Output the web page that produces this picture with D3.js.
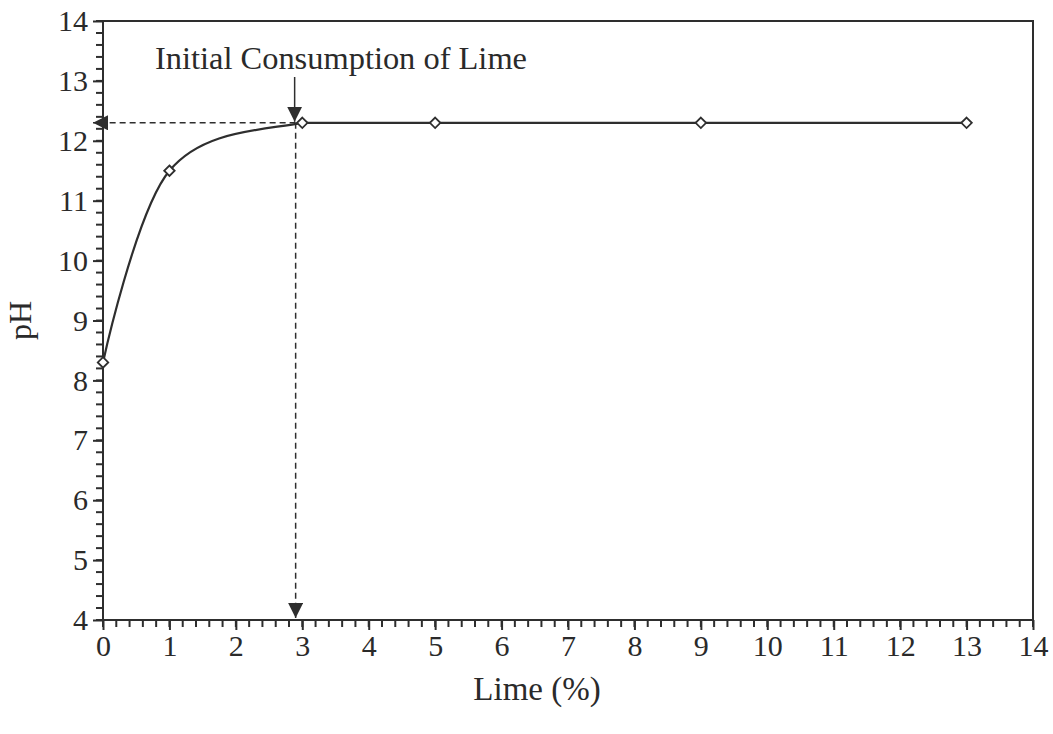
<!DOCTYPE html>
<html>
<head>
<meta charset="utf-8">
<script src="https://cdn.jsdelivr.net/npm/d3@7"></script>
<style>
  body { margin: 0; background: #fff; }
  svg { display: block; }
  text { font-family: "Liberation Serif", "Times New Roman", serif; fill: #2a2a2a; }
</style>
</head>
<body>
<svg id="chart" width="1053" height="734"></svg>
<script>
// Lime content (%) and measured pH
const limePct = [0, 1, 3, 5, 9, 13];
const phValues = [8.3, 11.5, 12.3, 12.3, 12.3, 12.3];
const xTicks = [0, 1, 2, 3, 4, 5, 6, 7, 8, 9, 10, 11, 12, 13, 14];
const yTicks = [4, 5, 6, 7, 8, 9, 10, 11, 12, 13, 14];
// Initial consumption of lime
const iclLime = [2.9];
const iclPh = [12.3];

const svg = d3.select("#chart");
const ink = "#2e2e2e";
const W = 1053;
const margin = { left: 103, right: 20, top: 21, bottom: 114 };
const H = 734;

const x = d3.scaleLinear().domain([0, 14]).range([margin.left, W - margin.right]);
const y = d3.scaleLinear().domain([4, 14]).range([H - margin.bottom, margin.top]);

const defs = svg.append("defs");
defs.append("marker").attr("id", "arrow")
  .attr("viewBox", "0 0 10 10").attr("refX", 10).attr("refY", 5)
  .attr("markerWidth", 15).attr("markerHeight", 15).attr("markerUnits", "userSpaceOnUse")
  .attr("orient", "auto")
  .append("path").attr("d", "M0,0 L10,5 L0,10 Z").attr("fill", ink);

// Rising part of the curve is smoothed up to the first plateau point
defs.append("clipPath").attr("id", "rise")
  .append("rect")
  .attr("x", x(0) - 10).attr("y", 0)
  .attr("width", x(limePct[2]) - x(0) + 10).attr("height", H);

// Frame
svg.append("rect")
  .attr("x", x(0)).attr("y", y(14))
  .attr("width", x(14) - x(0)).attr("height", y(4) - y(14))
  .attr("fill", "none").attr("stroke", ink).attr("stroke-width", 2);

// Minor ticks
const minorX = d3.range(0, 14.001, 0.2);
const minorY = d3.range(4, 14.001, 0.2);
svg.append("g").attr("transform", `translate(0,${y(4)})`)
  .selectAll("line").data(minorX).join("line")
  .attr("x1", d => x(d)).attr("x2", d => x(d)).attr("y1", 0).attr("y2", 7)
  .attr("stroke", ink).attr("stroke-width", 2);
svg.append("g").attr("transform", `translate(${x(0)},0)`)
  .selectAll("line").data(minorY).join("line")
  .attr("y1", d => y(d)).attr("y2", d => y(d)).attr("x1", 0).attr("x2", -7)
  .attr("stroke", ink).attr("stroke-width", 2);

// Major axes
const xAxis = d3.axisBottom(x).tickValues(xTicks).tickFormat(d3.format("d")).tickSize(10).tickPadding(5);
const yAxis = d3.axisLeft(y).tickValues(yTicks).tickFormat(d3.format("d")).tickSize(10).tickPadding(5);
const ax = svg.append("g").attr("transform", `translate(0,${y(4)})`).call(xAxis);
const ay = svg.append("g").attr("transform", `translate(${x(0)},0)`).call(yAxis);
[ax, ay].forEach(g => {
  g.attr("font-size", 30).attr("font-family", null);
  g.select(".domain").remove();
  g.selectAll(".tick line").attr("stroke", ink).attr("stroke-width", 2);
  g.selectAll(".tick text").attr("fill", "#2a2a2a");
});

// Data curve: smooth rise, straight plateau
const smooth = d3.line().x((d, i) => x(limePct[i])).y(d => y(d)).curve(d3.curveCardinal.tension(0));
svg.append("path").datum(phValues.slice(0, 4))
  .attr("d", smooth).attr("clip-path", "url(#rise)")
  .attr("fill", "none").attr("stroke", ink).attr("stroke-width", 2.2);
const straight = d3.line().x((d, i) => x(limePct[i + 2])).y(d => y(d));
svg.append("path").datum(phValues.slice(2))
  .attr("d", straight)
  .attr("fill", "none").attr("stroke", ink).attr("stroke-width", 2.2);

// Diamond markers
svg.selectAll("path.pt").data(phValues).join("path")
  .attr("class", "pt")
  .attr("d", d3.symbol().type(d3.symbolDiamond2).size(70))
  .attr("transform", (d, i) => `translate(${x(limePct[i])},${y(d)})`)
  .attr("fill", "#fff").attr("stroke", ink).attr("stroke-width", 1.8);

// Dashed guide lines with arrows
svg.append("line")
  .attr("x1", x(iclLime[0])).attr("y1", y(iclPh[0]))
  .attr("x2", x(0) - 10).attr("y2", y(iclPh[0]))
  .attr("stroke", ink).attr("stroke-width", 1.5).attr("stroke-dasharray", "6,4")
  .attr("marker-end", "url(#arrow)");
svg.append("line")
  .attr("x1", x(iclLime[0])).attr("y1", y(iclPh[0]))
  .attr("x2", x(iclLime[0])).attr("y2", y(4) - 2)
  .attr("stroke", ink).attr("stroke-width", 1.5).attr("stroke-dasharray", "6,4")
  .attr("marker-end", "url(#arrow)");

// Annotation
svg.append("line")
  .attr("x1", x(iclLime[0]) - 1).attr("y1", 77)
  .attr("x2", x(iclLime[0]) - 1).attr("y2", y(iclPh[0]) - 1)
  .attr("stroke", ink).attr("stroke-width", 1.5)
  .attr("marker-end", "url(#arrow)");
svg.append("text").attr("x", 155).attr("y", 69)
  .attr("font-size", 31)
  .attr("textLength", 372).attr("lengthAdjust", "spacingAndGlyphs")
  .text("Initial Consumption of Lime");

// Axis titles
svg.append("text").attr("x", 537).attr("y", 700)
  .attr("text-anchor", "middle").attr("font-size", 33).text("Lime (%)");
svg.append("text")
  .attr("transform", `translate(31,${(y(4) + y(14)) / 2}) rotate(-90)`)
  .attr("text-anchor", "middle").attr("font-size", 32).text("pH");
</script>
</body>
</html>
